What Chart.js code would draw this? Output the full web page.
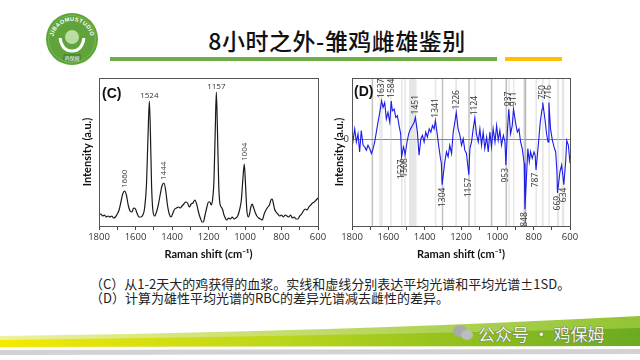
<!DOCTYPE html>
<html>
<head>
<meta charset="utf-8">
<script src="https://cdn.jsdelivr.net/npm/chart.js@4.4.1/dist/chart.umd.min.js"></script>
<style>
  html, body { margin: 0; padding: 0; background: #fff; }
  #page { position: relative; width: 640px; height: 360px; overflow: hidden; background: #fff; font-family: "Noto Sans CJK SC", sans-serif; }
  #logo { position: absolute; left: 45px; top: 12px; }
  #title { position: absolute; left: 137px; width: 400px; top: 25px; text-align: center; font-size: 23px; line-height: 30px; color: #111; letter-spacing: 0.5px; font-weight: 500; }
  .rule { position: absolute; height: 4px; top: 57px; }
  canvas { position: absolute; }
  #cChart { left: 60px; top: 68px; }
  #dChart { left: 315px; top: 68px; }
  #caption { position: absolute; left: 90px; top: 277px; font-size: 13px; line-height: 14px; color: #222; white-space: nowrap; }
  #swoosh { position: absolute; left: 0; top: 300px; }
  #mark { position: absolute; left: 478px; top: 321px; font-size: 17px; color: #f6f6f6; text-shadow: 0 0 1px #555, 0 0 1px #555; white-space: nowrap; }
  .bubble { position: absolute; background: #a9a9a9; border-radius: 50%; }
</style>
</head>
<body>
<div id="page">
  <svg id="logo" width="54" height="54" viewBox="0 0 54 54">
    <defs><path id="arc" d="M8,28 A19,19 0 1,1 46,28"/></defs>
    <circle cx="27" cy="27" r="26" fill="#5fa33a"/>
    <circle cx="27" cy="27" r="23.5" fill="none" stroke="#8cc46a" stroke-width="0.6"/>
    <text font-size="5.6" fill="#fff" font-family="Liberation Sans" font-weight="bold" letter-spacing="0.4"><textPath href="#arc" startOffset="50%" text-anchor="middle">JIBAOMUSTUDIO</textPath></text>
    <circle cx="27" cy="25" r="7" fill="#b9dca0"/>
    <path d="M15,26 Q17,39 27,39 Q37,39 39,26" fill="none" stroke="#fff" stroke-width="3"/>
    <rect x="18" y="42" width="18" height="7" rx="2" fill="#4c8c2c"/>
    <text x="27" y="47.6" font-size="5" fill="#fff" text-anchor="middle">鸡保姆</text>
  </svg>
  <div id="title">8小时之外-雏鸡雌雄鉴别</div>
  <div class="rule" style="left:110px;width:387px;background:#70ad47;"></div>
  <div class="rule" style="left:505px;width:57px;background:#ffc000;"></div>

  <canvas id="cChart" width="275" height="200"></canvas>
  <canvas id="dChart" width="275" height="200"></canvas>

  <div id="caption">（C）从1-2天大的鸡获得的血浆。实线和虚线分别表达平均光谱和平均光谱±1SD。<br>（D）计算为雄性平均光谱的RBC的差异光谱减去雌性的差异。</div>

  <svg id="swoosh" width="640" height="60" viewBox="0 0 640 60">
    <defs>
      <linearGradient id="g1" x1="0" x2="1" y1="0" y2="0">
        <stop offset="0" stop-color="#f6ea00"/>
        <stop offset="0.45" stop-color="#b9d51c"/>
        <stop offset="1" stop-color="#6aab22"/>
      </linearGradient>
      <linearGradient id="g2" x1="0" x2="1" y1="0" y2="0">
        <stop offset="0" stop-color="#eef29a"/>
        <stop offset="1" stop-color="#92c434"/>
      </linearGradient>
    </defs>
    <path d="M0,36 Q330,32 640,16 L640,32 Q330,39 0,41 Z" fill="url(#g2)"/>
    <path d="M0,40 Q330,36 640,28 L640,46 L0,47 Z" fill="url(#g1)"/>
    <path d="M0,50 L640,49 L640,54 L0,55 Z" fill="#d2d2d2"/>
  </svg>
  <div class="bubble" style="left:453px;top:325px;width:14px;height:12px;"></div>
  <div class="bubble" style="left:461px;top:330px;width:12px;height:10px;background:#bdbdbd;"></div>
  <div id="mark">公众号 · 鸡保姆</div>
</div>

<script>
// (C) mean Raman spectrum of plasma
const cWave = [1800,1790,1780,1770,1760,1750,1740,1730,1720,1710,1700,1690,1680,1670,1660,1650,1640,1630,1620,1610,1600,1590,1580,1570,1560,1550,1540,1532,1524,1518,1512,1505,1495,1485,1475,1465,1455,1444,1435,1425,1415,1405,1395,1385,1375,1365,1355,1345,1335,1325,1315,1305,1295,1285,1275,1265,1255,1245,1235,1228,1220,1210,1200,1192,1185,1178,1170,1163,1157,1151,1144,1137,1130,1122,1115,1108,1100,1090,1080,1070,1060,1050,1040,1030,1020,1012,1004,997,990,982,975,968,961,954,945,935,925,915,905,895,885,875,866,858,851,845,838,830,820,810,800,790,780,770,760,750,740,730,720,710,700,690,680,670,660,650,640,630,620,610,600];
const cInt = [11,12,10,11,9,10,9,10,8,9,12,16,24,32,35,31,21,15,14,18,17,12,9,9,11,18,41,86,125,91,41,16,10,14,21,31,40,43,36,21,12,9,13,17,18,19,18,20,22,24,23,19,22,23,26,22,14,8,4,4,10,18,24,24,21,26,46,96,134,96,41,22,19,16,11,8,6,8,7,9,7,8,10,16,26,46,62,41,16,9,12,19,22,19,14,10,8,7,6,12,16,19,21,26,27,23,17,14,12,10,11,9,11,10,9,11,8,9,7,7,10,12,15,17,16,19,21,23,24,26,28];
const cPeaksUp = [1660, 1524, 1444, 1157, 1004];
const cPeaksFlat = [1524, 1157];

// (D) difference spectrum, male minus female
const dWave = [1800,1794,1785,1776,1767,1758,1749,1739,1730,1721,1712,1703,1693,1684,1675,1666,1657,1647,1637,1629,1620,1611,1602,1592,1584,1578,1568,1559,1550,1541,1532,1527,1517,1512,1508,1497,1488,1478,1467,1458,1451,1440,1431,1421,1412,1403,1394,1385,1375,1366,1357,1348,1341,1331,1322,1313,1308,1304,1289,1280,1271,1262,1252,1243,1234,1226,1216,1206,1197,1188,1179,1170,1157,1151,1142,1133,1124,1115,1105,1096,1087,1078,1069,1059,1050,1041,1032,1023,1013,1004,995,986,977,967,958,953,944,937,927,918,911,900,890,881,872,863,857,852,848,839,832,824,817,808,798,792,787,773,764,754,750,738,729,721,716,707,697,688,679,672,669,655,646,640,634,624,618,609,600];
const dDiff = [0.23,-0.02,0.33,-0.07,0.18,-0.37,0.28,-0.17,-0.22,-0.32,-0.17,-0.27,-0.42,-0.27,-0.07,0.23,0.53,0.83,1.18,0.98,1.13,0.63,0.83,0.53,1.18,0.88,0.93,0.68,0.73,0.43,0.18,-0.52,-0.22,-0.32,-0.47,-0.07,0.18,0.33,0.43,0.53,0.68,0.23,-0.47,0.03,0.13,-0.07,0.23,0.08,0.33,0.23,0.43,0.33,0.58,0.18,-0.22,-0.57,-0.72,-1.37,-0.67,-0.37,-0.52,-0.17,-0.42,0.23,0.53,0.83,0.33,0.13,-0.17,0.03,-0.32,-0.42,-1.07,-0.27,-0.07,0.33,0.65,0.18,-0.07,0.33,-0.17,0.23,-0.27,0.08,-0.37,0.23,-0.22,0.33,-0.07,0.43,-0.02,0.28,-0.17,0.13,-0.07,-0.77,0.33,0.93,0.18,0.43,0.93,0.53,0.23,0.33,-0.07,-0.27,-0.52,-0.72,-2.12,-1.07,-0.27,-0.67,-0.37,-0.57,-0.37,-0.47,-0.92,-0.07,0.53,0.93,1.13,0.63,0.18,-0.07,1.13,0.33,-0.02,-0.22,-0.37,-0.97,-1.62,-0.97,-0.77,-1.07,-1.37,-0.67,-0.02,-0.17,-0.72];
const dPeaksUp = [1637, 1584, 1451, 1341, 1226, 1124, 937, 911, 750, 716];
const dPeaksDown = [1527, 1508, 1304, 1157, 953, 848, 787, 669, 634];
const dBandsLight = [[1644,1650],[1633,1640],[1582,1590],[1524,1530],[1505,1512],[1445,1486],[1337,1344],[1222,1232],[1121,1127],[934,940],[908,914],[840,858],[784,790],[745,755],[713,719],[660,672],[631,645]];
const dBandsDark = [[1687,1692],[1300,1306],[1155,1160],[1031,1036],[950,955],[846,850]];

const xTicks = [1800, 1600, 1400, 1200, 1000, 800, 600];

// box round the plot + panel tag
const frame = {
  id: 'frame',
  afterDatasetsDraw(chart, args, o) {
    const { ctx, chartArea: a } = chart;
    ctx.save();
    ctx.strokeStyle = o.color;
    ctx.lineWidth = 1;
    ctx.strokeRect(Math.round(a.left) + 0.5, Math.round(a.top) + 0.5, Math.round(a.right - a.left), Math.round(a.bottom - a.top));
    ctx.font = 'bold 14px "Liberation Sans"';
    ctx.fillStyle = '#111';
    ctx.textBaseline = 'middle';
    ctx.fillText(o.tag, a.left + o.dx, a.top + o.dy);
    ctx.restore();
  }
};

// wavenumber labels on peaks
const peaks = {
  id: 'peaks',
  afterDatasetsDraw(chart, args, o) {
    const { ctx, scales: { x, y } } = chart;
    const at = w => [x.getPixelForValue(w), y.getPixelForValue(o.vals[o.wave.indexOf(w)])];
    ctx.save();
    ctx.font = o.font;
    ctx.fillStyle = o.color;
    o.up.forEach(w => {
      const [px, py] = at(w);
      if (o.flat.includes(w)) {
        ctx.textAlign = 'center';
        ctx.textBaseline = 'bottom';
        ctx.fillText(String(w), px, py - 1);
        return;
      }
      ctx.save();
      ctx.translate(px, py - 3);
      ctx.rotate(-Math.PI / 2);
      ctx.textAlign = 'left';
      ctx.textBaseline = 'middle';
      ctx.fillText(String(w), 0, 0);
      ctx.restore();
    });
    o.down.forEach(w => {
      const [px, py] = at(w);
      ctx.save();
      ctx.translate(px, py + 3);
      ctx.rotate(-Math.PI / 2);
      ctx.textAlign = 'right';
      ctx.textBaseline = 'middle';
      ctx.fillText(String(w), 0, 0);
      ctx.restore();
    });
    ctx.restore();
  }
};

// grey marker bands in (D)
const bands = {
  id: 'bands',
  beforeDatasetsDraw(chart, args, o) {
    if (!o.light) return;
    const { ctx, chartArea: a, scales: { x } } = chart;
    const paint = (list, color) => list.forEach(([lo, hi]) => {
      const x1 = x.getPixelForValue(hi), x2 = x.getPixelForValue(lo);
      ctx.fillStyle = color;
      ctx.fillRect(Math.min(x1, x2), a.top, Math.max(Math.abs(x2 - x1), 1.5), a.bottom - a.top);
    });
    ctx.save();
    paint(o.light, 'rgba(200,200,200,0.45)');
    paint(o.dark, 'rgba(140,140,140,0.55)');
    ctx.restore();
  }
};

function xAxis() {
  return {
    type: 'linear', min: 600, max: 1800, reverse: true,
    ticks: {
      stepSize: 100, autoSkip: false, maxRotation: 0, padding: 2, color: '#333',
      font: { family: 'Open Sans', size: 9.5 },
      callback: v => xTicks.includes(v) ? v : ''
    },
    grid: { drawOnChartArea: false, drawTicks: true, tickLength: 4, color: '#444' },
    border: { display: false },
    title: { display: true, text: 'Raman shift (cm⁻¹)', color: '#111', font: { family: 'Lato', size: 11, weight: 'bold' }, padding: { top: 0, bottom: 7 } },
    afterFit: s => { s.height = 42; }
  };
}

const yTitle = { display: true, text: 'Intensity (a.u.)', color: '#111', font: { family: 'Lato', size: 11, weight: 'bold' }, padding: { top: 4, bottom: 0 } };

const cChart = new Chart(document.getElementById('cChart'), {
  type: 'line',
  data: {
    datasets: [{
      data: cWave.map((w, i) => ({ x: w, y: cInt[i] })),
      borderColor: '#1a1a1a',
      borderWidth: 1.2,
      pointRadius: 0,
      cubicInterpolationMode: 'monotone'
    }]
  },
  options: {
    responsive: false, animation: false, devicePixelRatio: 1,
    layout: { padding: { left: 17, right: 17, top: 10, bottom: 0 } },
    plugins: {
      legend: { display: false }, tooltip: { enabled: false },
      frame: { color: '#555', tag: '(C)', dx: 3, dy: 16 },
      peaks: { wave: cWave, vals: cInt, up: cPeaksUp, down: [], flat: cPeaksFlat, color: '#333', font: '8px "Open Sans"' },
      bands: {}
    },
    scales: {
      x: xAxis(),
      y: {
        min: 0, max: 148,
        ticks: { display: false }, grid: { display: false }, border: { display: false },
        title: yTitle,
        afterFit: s => { s.width = 22; }
      }
    }
  },
  plugins: [frame, peaks, bands]
});

const dChart = new Chart(document.getElementById('dChart'), {
  type: 'line',
  data: {
    datasets: [{
      data: dWave.map((w, i) => ({ x: w, y: dDiff[i] })),
      borderColor: '#1c1ce6',
      borderWidth: 1.1,
      pointRadius: 0,
      tension: 0
    }]
  },
  options: {
    responsive: false, animation: false, devicePixelRatio: 1,
    layout: { padding: { left: 14, right: 20, top: 10, bottom: 0 } },
    plugins: {
      legend: { display: false }, tooltip: { enabled: false },
      frame: { color: '#555', tag: '(D)', dx: 2, dy: 14 },
      peaks: { wave: dWave, vals: dDiff, up: dPeaksUp, down: dPeaksDown, flat: [], color: '#333', font: '8.5px "Open Sans"' },
      bands: { light: dBandsLight, dark: dBandsDark }
    },
    scales: {
      x: xAxis(),
      y: {
        min: -2.63, max: 1.88,
        afterBuildTicks: s => { s.ticks = [{ value: 0 }]; },
        ticks: { color: '#333', font: { family: 'Open Sans', size: 9.5 }, padding: 3 },
        grid: { color: '#888', lineWidth: 1, drawTicks: false },
        border: { display: false },
        title: yTitle,
        afterFit: s => { s.width = 23; }
      }
    }
  },
  plugins: [frame, peaks, bands]
});
</script>
</body>
</html>
